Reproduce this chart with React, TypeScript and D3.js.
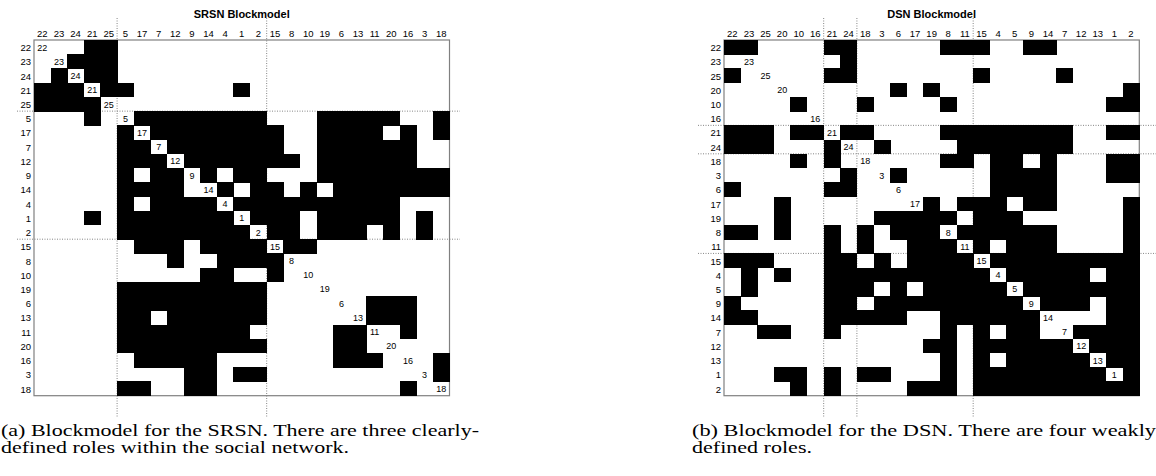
import * as d3 from "d3";
import React from "react";

// SRSN blockmodel (left)
const srsnOrder = ["22", "23", "24", "21", "25", "5", "17", "7", "12", "9", "14", "4", "1", "2", "15", "8", "10", "19", "6", "13", "11", "20", "16", "3", "18"];
const srsnBreaks = [5, 14];
const srsnRows = [
  "0001100000000000000000000",
  "0011100000000000000000000",
  "0101100000000000000000000",
  "1110110000001000000000000",
  "1111000000000000000000000",
  "0001001111111100011111001",
  "0000010111111110011110101",
  "0000011011111110011111100",
  "0000011101111111011111100",
  "0000010110101100011111111",
  "0000011110010110101111111",
  "0000010111101111111111000",
  "0001011111110111011111010",
  "0000011111111011011101010",
  "0000001110111101100000000",
  "0000000010011110000000000",
  "0000000000110010000000000",
  "0000011111111100000000000",
  "0000011111111100000011100",
  "0000011011111100000011100",
  "0000011111111000001100100",
  "0000011111111100001100000",
  "0000001111100000001110001",
  "0000000001101100000000001",
  "0000011001100000000000100",
];

// DSN blockmodel (right)
const dsnOrder = ["22", "23", "25", "20", "10", "16", "21", "24", "18", "3", "6", "17", "19", "8", "11", "15", "4", "5", "9", "14", "7", "12", "13", "1", "2"];
const dsnBreaks = [6, 8, 15];
const dsnRows = [
  "1100001100000111001100000",
  "0000000100000000000000000",
  "1000001100000001000010000",
  "0000000000101000000000001",
  "0000100010000100000000011",
  "0000000000000000000000000",
  "1110110110000111111110011",
  "1110001001000011111110000",
  "0000101000000110110100011",
  "0000000100100000111100011",
  "1000001100000000111100000",
  "0001000000001011101100001",
  "0001000001111101110000001",
  "1101001010111011111100001",
  "0000001010011101011100001",
  "1110001101011110111111111",
  "0101001111111111011111011",
  "0100001110101111101111111",
  "1000001101111111110111011",
  "1100001111100111111000011",
  "0011001000000101011001111",
  "0000000000001101111110111",
  "0000000000000101011111011",
  "0001101011000101111111101",
  "0000101000011101111111111",
];

const captionA = ["(a) Blockmodel for the SRSN. There are three clearly-", "defined roles within the social network."];
const captionB = ["(b) Blockmodel for the DSN. There are four weakly", "defined roles."];

const W = 1156;
const H = 476;
const sans = "'Liberation Sans', Arial, Helvetica, sans-serif";
const serif = "'Liberation Serif', 'Times New Roman', serif";

type Panel = {
  title: string;
  order: string[];
  rows: string[];
  breaks: number[];
  left: number;
  right: number;
  lineFrom: number;
  lineTo: number;
};

function drawPanel(svg: d3.Selection<SVGSVGElement, unknown, null, undefined>, p: Panel) {
  const top = 40;
  const bottom = 395.7;
  const idx = d3.range(p.order.length);
  const x = d3.scaleBand<number>().domain(idx).range([p.left, p.right]);
  const y = d3.scaleBand<number>().domain(idx).range([top, bottom]);
  const g = svg.append("g");

  // frame
  g.append("rect")
    .attr("x", p.left)
    .attr("y", top)
    .attr("width", p.right - p.left)
    .attr("height", bottom - top)
    .attr("fill", "none")
    .attr("stroke", "#808080")
    .attr("stroke-width", 1.2);

  // role separators
  p.breaks.forEach((b) => {
    g.append("line")
      .attr("x1", x(b)!)
      .attr("x2", x(b)!)
      .attr("y1", 18)
      .attr("y2", 418)
      .attr("stroke", "#777")
      .attr("stroke-width", 0.9)
      .attr("stroke-dasharray", "1 1.5");
    g.append("line")
      .attr("x1", p.lineFrom)
      .attr("x2", p.lineTo)
      .attr("y1", y(b)!)
      .attr("y2", y(b)!)
      .attr("stroke", "#777")
      .attr("stroke-width", 0.9)
      .attr("stroke-dasharray", "1 1.5");
  });

  // cells
  const cells: { r: number; c: number }[] = [];
  p.rows.forEach((row, r) => {
    row.split("").forEach((v, c) => {
      if (v === "1") cells.push({ r, c });
    });
  });
  g.selectAll(".cell")
    .data(cells)
    .enter()
    .append("rect")
    .attr("x", (d) => x(d.c)!)
    .attr("y", (d) => y(d.r)!)
    .attr("width", x.bandwidth() + 0.4)
    .attr("height", y.bandwidth() + 0.4)
    .attr("fill", "#000")
    .attr("shape-rendering", "crispEdges");

  // diagonal labels
  g.selectAll(".diag")
    .data(p.order)
    .enter()
    .append("text")
    .attr("x", (_, i) => x(i)! + x.bandwidth() / 2)
    .attr("y", (_, i) => y(i)! + y.bandwidth() / 2 + 0.5)
    .attr("text-anchor", "middle")
    .attr("dominant-baseline", "central")
    .attr("font-family", sans)
    .attr("font-size", 9)
    .attr("fill", "#000")
    .text((d) => d);

  // column labels
  g.selectAll(".col")
    .data(p.order)
    .enter()
    .append("text")
    .attr("x", (_, i) => x(i)! + x.bandwidth() / 2)
    .attr("y", 36.5)
    .attr("text-anchor", "middle")
    .attr("font-family", sans)
    .attr("font-size", 9.5)
    .attr("fill", "#000")
    .text((d) => d);

  // row labels
  g.selectAll(".rowlab")
    .data(p.order)
    .enter()
    .append("text")
    .attr("x", p.left - 3)
    .attr("y", (_, i) => y(i)! + y.bandwidth() / 2 + 0.5)
    .attr("text-anchor", "end")
    .attr("dominant-baseline", "central")
    .attr("font-family", sans)
    .attr("font-size", 9.5)
    .attr("fill", "#000")
    .text((d) => d);

  // title
  g.append("text")
    .attr("x", (p.left + p.right) / 2)
    .attr("y", 17.5)
    .attr("text-anchor", "middle")
    .attr("font-family", sans)
    .attr("font-weight", "bold")
    .attr("font-size", 11)
    .attr("fill", "#000")
    .text(p.title);
}

function drawCaption(
  svg: d3.Selection<SVGSVGElement, unknown, null, undefined>,
  lines: string[],
  x0: number,
  widths: number[]
) {
  const baselines = [436, 453];
  lines.forEach((line, i) => {
    svg
      .append("text")
      .attr("x", x0)
      .attr("y", baselines[i])
      .attr("font-family", serif)
      .attr("font-size", 17)
      .attr("textLength", widths[i])
      .attr("lengthAdjust", "spacingAndGlyphs")
      .attr("fill", "#000")
      .text(line);
  });
}

export default function App() {
  const svgRef = React.useRef<SVGSVGElement>(null);

  React.useEffect(() => {
    const svg = d3.select(svgRef.current!);
    svg.selectAll("*").remove();

    drawPanel(svg, {
      title: "SRSN Blockmodel",
      order: srsnOrder,
      rows: srsnRows,
      breaks: srsnBreaks,
      left: 34,
      right: 449.5,
      lineFrom: 17,
      lineTo: 460,
    });
    drawPanel(svg, {
      title: "DSN Blockmodel",
      order: dsnOrder,
      rows: dsnRows,
      breaks: dsnBreaks,
      left: 724,
      right: 1139.3,
      lineFrom: 698,
      lineTo: 1156,
    });

    drawCaption(svg, captionA, 1, [478, 348]);
    drawCaption(svg, captionB, 692, [464, 120]);
  }, []);

  return (
    <svg
      ref={svgRef}
      width={W}
      height={H}
      viewBox={`0 0 ${W} ${H}`}
      style={{ position: "absolute", left: 0, top: 0, background: "#fff" }}
    ></svg>
  );
}
